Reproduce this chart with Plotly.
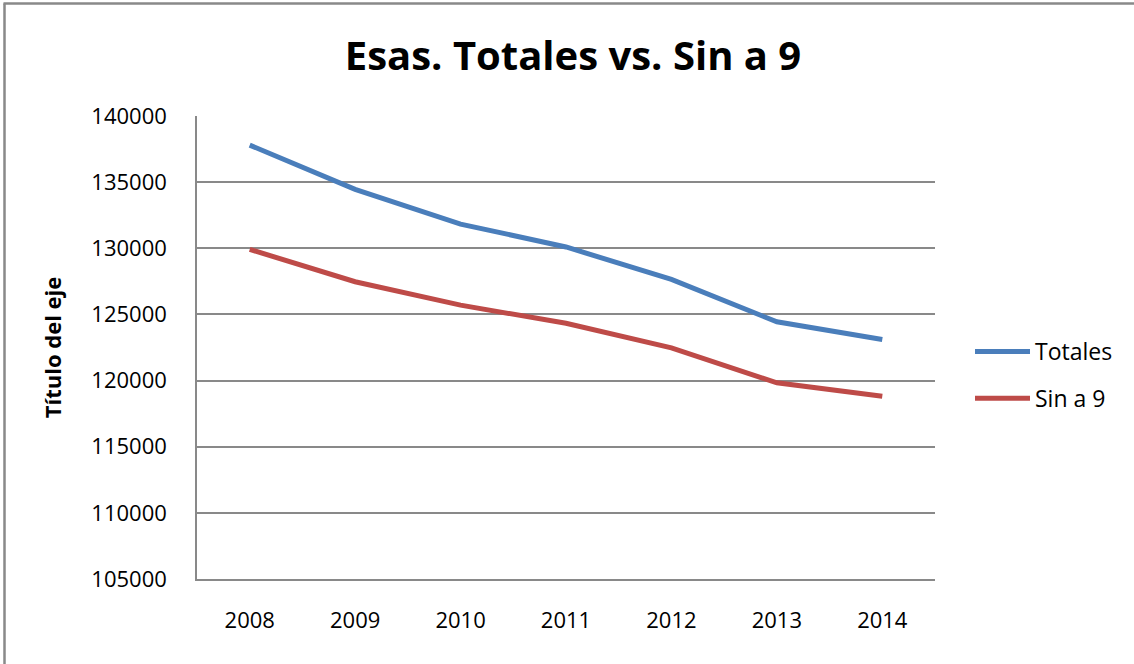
import plotly.graph_objects as go

years = ["2008", "2009", "2010", "2011", "2012", "2013", "2014"]
totales = [137800, 134450, 131830, 130100, 127650, 124440, 123110]
sin_a_9 = [129920, 127470, 125700, 124330, 122470, 119830, 118820]
y_ticks = [105000, 110000, 115000, 120000, 125000, 130000, 135000, 140000]

FONT = "Open Sans"
W, H = 1134, 664
L, R, T, B = 197, 935, 116, 579  # plot area in pixels
PW, PH = R - L, B - T

fig = go.Figure()
fig.add_trace(go.Scatter(x=years, y=totales, name="Totales", mode="lines",
                         line=dict(color="#4A7EBB", width=5), legendgroup="a"))
fig.add_trace(go.Scatter(x=years, y=sin_a_9, name="Sin a 9", mode="lines",
                         line=dict(color="#BE4B48", width=5), legendgroup="b"))

fig.update_layout(
    width=W, height=H,
    margin=dict(l=L, r=W - R, t=T, b=H - B),
    paper_bgcolor="white", plot_bgcolor="white",
    font=dict(family=FONT, color="black", size=22),
    title=dict(text="<b>Esas. Totales vs. Sin a 9</b>", x=573 / W, xanchor="center",
               y=1 - 56 / H, yanchor="middle",
               font=dict(family=FONT, size=40, color="black")),
    showlegend=True,
    legend=dict(x=(970 - L) / PW, xanchor="left", y=(B - 375) / PH, yanchor="middle",
                font=dict(family=FONT, size=23), tracegroupgap=14,
                itemwidth=55, bgcolor="rgba(0,0,0,0)"),
    xaxis=dict(type="category", range=[-0.5, 6.5], showgrid=False,
               showline=True, linecolor="#898989", linewidth=1.5,
               ticks="", ticklabelstandoff=21, tickfont=dict(size=22)),
    yaxis=dict(range=[105000, 140000], tickvals=y_ticks, tickformat="d",
               showgrid=True, gridcolor="#898989", gridwidth=1.5, zeroline=False,
               showline=True, linecolor="#898989", linewidth=1.5,
               ticks="", ticklabelstandoff=24, tickfont=dict(size=22),
               title=dict(text="<b>Título del eje</b>", standoff=24,
                          font=dict(size=22))),
)

# outer chart border (top and left visible)
fig.add_shape(type="line", xref="paper", yref="paper",
              x0=(3.5 - L) / PW, x1=(W + 20 - L) / PW,
              y0=(B - 3.5) / PH, y1=(B - 3.5) / PH,
              line=dict(color="#898989", width=2.5))
fig.add_shape(type="line", xref="paper", yref="paper",
              x0=(4.5 - L) / PW, x1=(4.5 - L) / PW,
              y0=(B - H - 20) / PH, y1=(B - 3.5) / PH,
              line=dict(color="#898989", width=2.5))

fig.write_html("out.html", config={"displayModeBar": False},
               post_script="document.body.style.margin='0';document.body.style.overflow='hidden';"
                           "document.documentElement.style.overflow='hidden';"
                           "var c=document.querySelector('.plotly-graph-div');"
                           "if(c){c.style.overflow='hidden';}")
